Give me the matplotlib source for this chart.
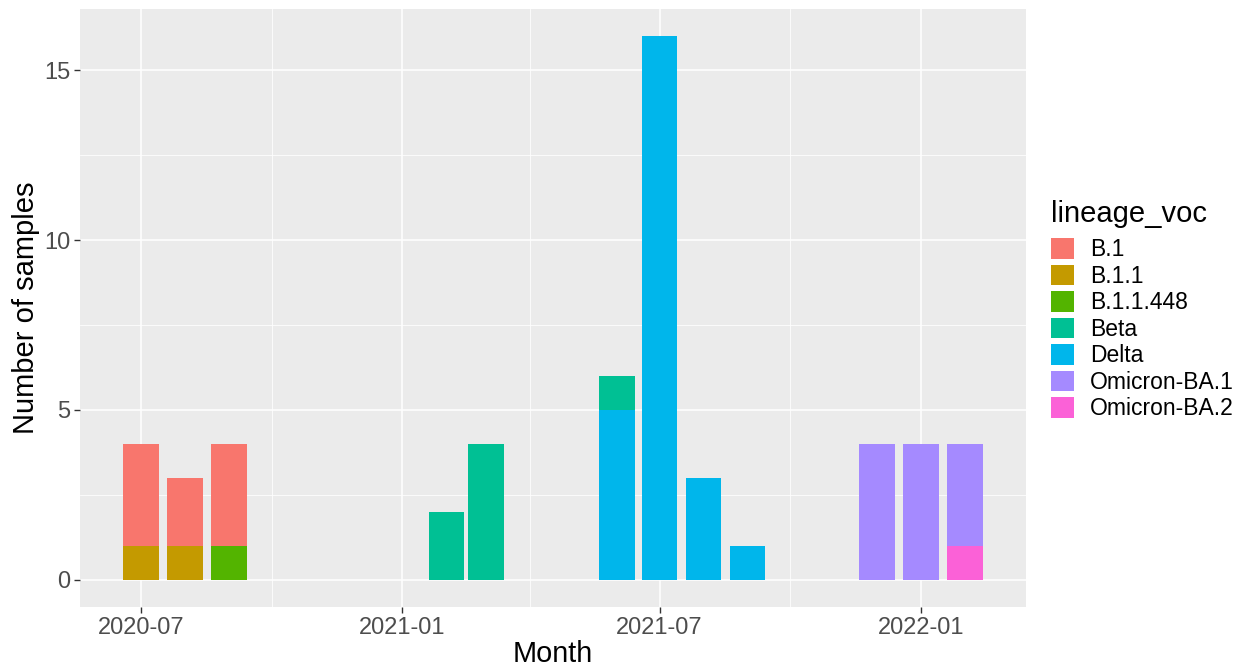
import matplotlib
matplotlib.use("Agg")
import matplotlib.pyplot as plt
import matplotlib.dates as mdates
from matplotlib.patches import Patch
import numpy as np
import datetime as dt

months = ['2020-07', '2020-08', '2020-09', '2021-02', '2021-03', '2021-06',
          '2021-07', '2021-08', '2021-09', '2021-12', '2022-01', '2022-02']
lineages = ['B.1', 'B.1.1', 'B.1.1.448', 'Beta', 'Delta', 'Omicron-BA.1', 'Omicron-BA.2']
colors = ['#F8766D', '#C49A00', '#53B400', '#00C094', '#00B6EB', '#A58AFF', '#FB61D7']
b1 =      [3, 2, 3, 0, 0, 0, 0, 0, 0, 0, 0, 0]
b11 =     [1, 1, 0, 0, 0, 0, 0, 0, 0, 0, 0, 0]
b11448 =  [0, 0, 1, 0, 0, 0, 0, 0, 0, 0, 0, 0]
beta =    [0, 0, 0, 2, 4, 1, 0, 0, 0, 0, 0, 0]
delta =   [0, 0, 0, 0, 0, 5, 16, 3, 1, 0, 0, 0]
ba1 =     [0, 0, 0, 0, 0, 0, 0, 0, 0, 4, 4, 3]
ba2 =     [0, 0, 0, 0, 0, 0, 0, 0, 0, 0, 0, 1]
series = [b1, b11, b11448, beta, delta, ba1, ba2]

major_ticks = ['2020-07', '2021-01', '2021-07', '2022-01']
minor_ticks = ['2020-10', '2021-04', '2021-10']

plt.rcParams['font.family'] = ['Liberation Sans', 'DejaVu Sans']

def to_date(s):
    y, m = s.split('-')
    return dt.date(int(y), int(m), 1)

x = mdates.date2num([to_date(m) for m in months])

fig = plt.figure(figsize=(12.44, 6.67), dpi=100)
ax = fig.add_axes([80/1244, 1 - 607/667, (1026-80)/1244, (607-9)/667])
ax.set_facecolor('#EBEBEB')

bottom = np.zeros(len(months))
for name, col, vals in reversed(list(zip(lineages, colors, series))):
    v = np.array(vals, dtype=float)
    ax.bar(x, v, width=25, bottom=bottom, color=col, linewidth=0, zorder=3)
    bottom += v

x0 = mdates.date2num(dt.date(2020, 7, 1)) - 43
x1 = mdates.date2num(dt.date(2022, 2, 1)) + 43
ax.set_xlim(x0, x1)
ax.set_ylim(-0.8, 16.8)

ax.set_xticks(mdates.date2num([to_date(m) for m in major_ticks]))
ax.set_xticklabels(major_ticks)
ax.set_xticks(mdates.date2num([to_date(m) for m in minor_ticks]), minor=True)
ax.set_yticks([0, 5, 10, 15])
ax.set_yticks([2.5, 7.5, 12.5], minor=True)

ax.grid(which='major', color='white', linewidth=1.1, zorder=1)
ax.grid(which='minor', color='white', linewidth=0.55, zorder=1)
ax.set_axisbelow(True)
for s in ax.spines.values():
    s.set_visible(False)
ax.tick_params(which='major', length=4, width=1.0, color='#333333',
               labelsize=17, labelcolor='#4D4D4D', pad=3)
ax.tick_params(which='minor', length=0)

ax.set_xlabel('Month', fontsize=20.8, color='black', labelpad=1)
ax.set_ylabel('Number of samples', fontsize=21, color='black', labelpad=3)

fig.text(1051/1244, 1 - 222/667, 'lineage_voc', fontsize=21, color='black',
         ha='left', va='baseline')
handles = [Patch(facecolor=c, edgecolor='none', label=l) for l, c in zip(lineages, colors)]
leg = fig.legend(handles=handles, loc='upper left',
                 bbox_to_anchor=(1051/1244, 1 - 238/667), frameon=False,
                 fontsize=16.5, handlelength=1.0,
                 handleheight=1.0, labelspacing=0.15, handletextpad=0.7,
                 borderpad=0, borderaxespad=0)

fig.savefig('out.png', dpi=100)
